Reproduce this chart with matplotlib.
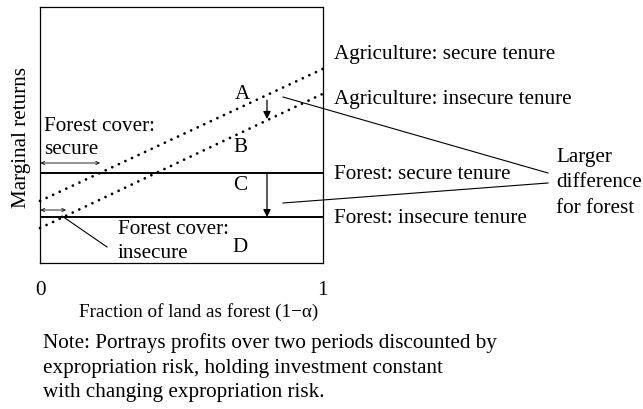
import matplotlib
matplotlib.use("Agg")
import matplotlib.pyplot as plt

plt.rcParams['font.family'] = ['Liberation Serif', 'DejaVu Serif']
FS = 15.2

# data
x_ends = [0, 1]
ag_secure = [0.242, 0.756]
ag_insecure = [0.136, 0.659]
forest_secure = 0.351
forest_insecure = 0.179
x_ticks = [0, 1]
x_tick_labels = ["0", "1"]

W, H = 643, 410
fig = plt.figure(figsize=(W / 100, H / 100), dpi=100)
L, R, T, B = 40, 322.5, 7.5, 264
ax = fig.add_axes([L / W, (H - B) / H, (R - L) / W, (B - T) / H])
ax.set_xlim(0, 1)
ax.set_ylim(0, 1)

def px(x, y):
    return ((x - L) / (R - L), (B - y) / (B - T))

for s in ax.spines.values():
    s.set_linewidth(0.9)

dot = (0, (0.01, 2.6))
ax.plot(x_ends, ag_secure, color='black', lw=2.0, linestyle=dot,
        dash_capstyle='round', clip_on=False)
ax.plot(x_ends, ag_insecure, color='black', lw=2.0, linestyle=dot,
        dash_capstyle='round', clip_on=False)
ax.axhline(forest_secure, color='black', lw=1.4)
ax.axhline(forest_insecure, color='black', lw=1.4)

# vertical arrows
xa = px(267, 0)[0]
def agv(v):
    return v[0] + (v[1] - v[0]) * xa
ax.annotate('', xy=(xa, agv(ag_insecure) + 0.005), xytext=(xa, agv(ag_secure) - 0.02),
            arrowprops=dict(arrowstyle='-|>', color='black', lw=0.9, mutation_scale=11,
                            shrinkA=0, shrinkB=0))
ax.annotate('', xy=(xa, forest_insecure), xytext=(xa, forest_secure),
            arrowprops=dict(arrowstyle='-|>', color='black', lw=0.9, mutation_scale=11,
                            shrinkA=0, shrinkB=0))

# double arrows
ax.annotate('', xy=px(100, 164), xytext=px(40.5, 164),
            arrowprops=dict(arrowstyle='<->', color='black', lw=0.6, mutation_scale=6,
                            shrinkA=0, shrinkB=0))
ax.annotate('', xy=px(66, 211), xytext=px(40.5, 211),
            arrowprops=dict(arrowstyle='<->', color='black', lw=0.6, mutation_scale=6,
                            shrinkA=0, shrinkB=0))

# pointer lines
ax.plot(*zip(px(62, 217), px(107, 248)), color='black', lw=0.8, clip_on=False)
ax.plot(*zip(px(283, 98), px(548, 174)), color='black', lw=0.8, clip_on=False)
ax.plot(*zip(px(283, 204), px(548, 184)), color='black', lw=0.8, clip_on=False)

def t(x, y, s, ha='left', va='center', **kw):
    ax.text(*px(x, y), s, ha=ha, va=va, fontsize=FS, clip_on=False, **kw)

t(242, 95, 'A', ha='center')
t(240, 148, 'B', ha='center')
t(240, 186, 'C', ha='center')
t(240, 248, 'D', ha='center')
t(44, 127, 'Forest cover:')
t(44, 150, 'secure')
t(118, 230, 'Forest cover:')
t(118, 254, 'insecure')

t(334, 55, 'Agriculture: secure tenure')
t(334, 100, 'Agriculture: insecure tenure')
t(334, 175, 'Forest: secure tenure')
t(334, 219, 'Forest: insecure tenure')
t(556, 158, 'Larger')
t(556, 183, 'difference')
t(556, 209, 'for forest')

ax.set_xticks(x_ticks)
ax.set_xticklabels(x_tick_labels, fontsize=FS)
ax.set_yticks([])
ax.tick_params(axis='x', length=0, pad=12)

ax.set_xlabel('Fraction of land as forest (1\u2212\u03b1)', fontsize=13.8)
ax.xaxis.set_label_coords(px(199, 0)[0], px(0, 312)[1])
ax.xaxis.label.set_va('center')
ax.set_ylabel('Marginal returns', fontsize=FS)
ax.yaxis.set_label_coords(px(22, 0)[0], px(0, 138)[1])
ax.yaxis.label.set_va('center')

t(43, 343, 'Note: Portrays profits over two periods discounted by')
t(43, 368, 'expropriation risk, holding investment constant')
t(43, 393, 'with changing expropriation risk.')

fig.savefig('out.png', dpi=100)
